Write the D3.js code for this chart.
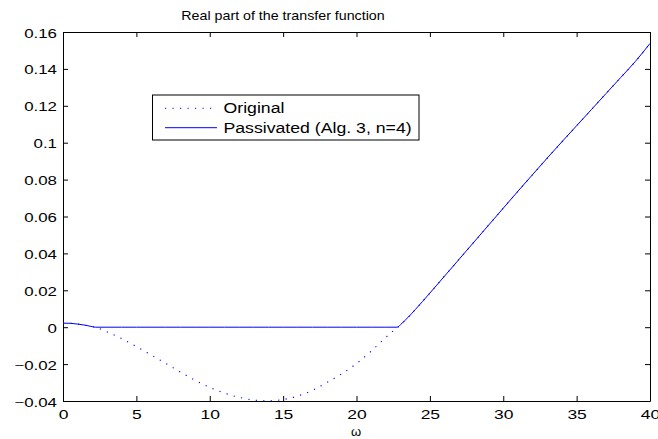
<!DOCTYPE html>
<html>
<head>
<meta charset="utf-8">
<script src="https://cdn.jsdelivr.net/npm/d3@7"></script>
<style>
  html, body { margin: 0; padding: 0; background: #fff; }
  svg { display: block; font-family: "Liberation Sans", Arial, Helvetica, sans-serif; }
</style>
</head>
<body>
<svg id="chart" width="658" height="439"></svg>
<script>
// ---- data ----
const omega = [0,0.5,1,1.5,2,2.2,3,4,5,6,7,8,9,10,11,12,13,14,15,16,17,18,19,20,21,22,22.8,23,23.5,24,25,26,27,28,29,30,31,32,33,34,35,36,37,38,39,40];
const original = [0.0022,0.0021,0.0017,0.0011,0.0003,0,-0.0025,-0.0062,-0.0105,-0.015,-0.0196,-0.0243,-0.0288,-0.0326,-0.0357,-0.038,-0.0395,-0.0399,-0.0392,-0.0373,-0.0342,-0.0299,-0.0252,-0.0197,-0.013,-0.0055,0,0.0014,0.0052,0.0095,0.0185,0.0277,0.0369,0.0461,0.0553,0.0645,0.0737,0.0827,0.0917,0.1005,0.1092,0.1179,0.1266,0.1353,0.144,0.1538];
const passivated = [0.0022,0.0021,0.0017,0.0011,0.0003,0,0,0,0,0,0,0,0,0,0,0,0,0,0,0,0,0,0,0,0,0,0,0.0014,0.0052,0.0095,0.0185,0.0277,0.0369,0.0461,0.0553,0.0645,0.0737,0.0827,0.0917,0.1005,0.1092,0.1179,0.1266,0.1353,0.144,0.1538];
const xTicks = [0,5,10,15,20,25,30,35,40];
const xTickLabels = ["0","5","10","15","20","25","30","35","40"];
const yTicks = [-0.04,-0.02,0,0.02,0.04,0.06,0.08,0.1,0.12,0.14,0.16];
const yTickLabels = ["\u22120.04","\u22120.02","0","0.02","0.04","0.06","0.08","0.1","0.12","0.14","0.16"];
const seriesNames = ["Original","Passivated (Alg. 3, n=4)"];
const titleText = "Real part of the transfer function";
const xLabelText = "\u03C9";

// ---- layout ----
const L = 63, T = 32, R = 650, B = 401;
const svg = d3.select("#chart");
const x = d3.scaleLinear().domain([0, 40]).range([L, R]);
const y = d3.scaleLinear().domain([-0.04, 0.16]).range([B, T]);
const blue = "#0000ff";

// axes (ticks inward, mirrored)
const tick = 5;
function styleAxis(g) {
  g.selectAll("path.domain").attr("stroke", "#000").attr("stroke-width", 1);
  g.selectAll(".tick line").attr("stroke", "#000").attr("stroke-width", 1);
}
const gx = svg.append("g").attr("transform", `translate(0,${B})`)
  .call(d3.axisBottom(x).tickValues(xTicks).tickSize(-tick).tickSizeOuter(0)
    .tickFormat((d, i) => xTickLabels[i]));
styleAxis(gx);
gx.selectAll(".tick text").each(function() {
  d3.select(this).attr("y", null).attr("dy", null).attr("x", null)
    .attr("transform", "translate(0,17.5) scale(1.4,1)")
    .attr("font-size", 12.5).attr("fill", "#000").attr("font-family", null);
});
const gy = svg.append("g").attr("transform", `translate(${L},0)`)
  .call(d3.axisLeft(y).tickValues(yTicks).tickSize(-tick).tickSizeOuter(0)
    .tickFormat((d, i) => yTickLabels[i]));
styleAxis(gy);
gy.selectAll(".tick text").each(function() {
  d3.select(this).attr("y", null).attr("dy", null).attr("x", null)
    .attr("transform", "translate(-6,5) scale(1.35,1)")
    .attr("text-anchor", "end")
    .attr("font-size", 12.5).attr("fill", "#000").attr("font-family", null);
});
const gxt = svg.append("g").attr("transform", `translate(0,${T})`)
  .call(d3.axisTop(x).tickValues(xTicks).tickSize(-tick).tickSizeOuter(0).tickFormat(""));
styleAxis(gxt);
const gyr = svg.append("g").attr("transform", `translate(${R},0)`)
  .call(d3.axisRight(y).tickValues(yTicks).tickSize(-tick).tickSizeOuter(0).tickFormat(""));
styleAxis(gyr);
svg.selectAll("g").attr("font-family", null);

// lines
const clip = svg.append("clipPath").attr("id", "clip")
  .append("rect").attr("x", L).attr("y", T).attr("width", R - L).attr("height", B - T);
const line = (vals) => d3.line()
  .x((d, i) => x(omega[i])).y(d => y(d))
  .curve(d3.curveMonotoneX)(vals);

svg.append("path").attr("d", line(original))
  .attr("fill", "none").attr("stroke", blue).attr("stroke-width", 1.1)
  .attr("stroke-dasharray", "1.2,6.3").attr("clip-path", "url(#clip)");
svg.append("path").attr("d", line(passivated))
  .attr("fill", "none").attr("stroke", blue).attr("stroke-width", 1)
  .attr("clip-path", "url(#clip)");

// title & x label
svg.append("text").attr("transform", "translate(283,19.5) scale(1.14,1)")
  .attr("text-anchor", "middle").attr("font-size", 12.5).attr("fill", "#000")
  .text(titleText);
svg.append("text").attr("transform", "translate(356,436)")
  .attr("text-anchor", "middle").attr("font-size", 13).attr("fill", "#000")
  .text(xLabelText);

// legend
const lg = svg.append("g");
lg.append("rect").attr("x", 152.5).attr("y", 95).attr("width", 266.5).attr("height", 45)
  .attr("fill", "#fff").attr("stroke", "#000").attr("stroke-width", 1);
const rows = [
  { name: seriesNames[0], yl: 108.3, dash: "1.2,6.3" },
  { name: seriesNames[1], yl: 127.7, dash: null }
];
rows.forEach(r => {
  lg.append("line").attr("x1", 165).attr("x2", 217).attr("y1", r.yl).attr("y2", r.yl)
    .attr("stroke", blue).attr("stroke-width", 1)
    .attr("stroke-dasharray", r.dash);
  lg.append("text").attr("transform", `translate(223.5,${r.yl + 5}) scale(1.22,1)`)
    .attr("font-size", 14.5).attr("fill", "#000").text(r.name);
});
</script>
</body>
</html>
